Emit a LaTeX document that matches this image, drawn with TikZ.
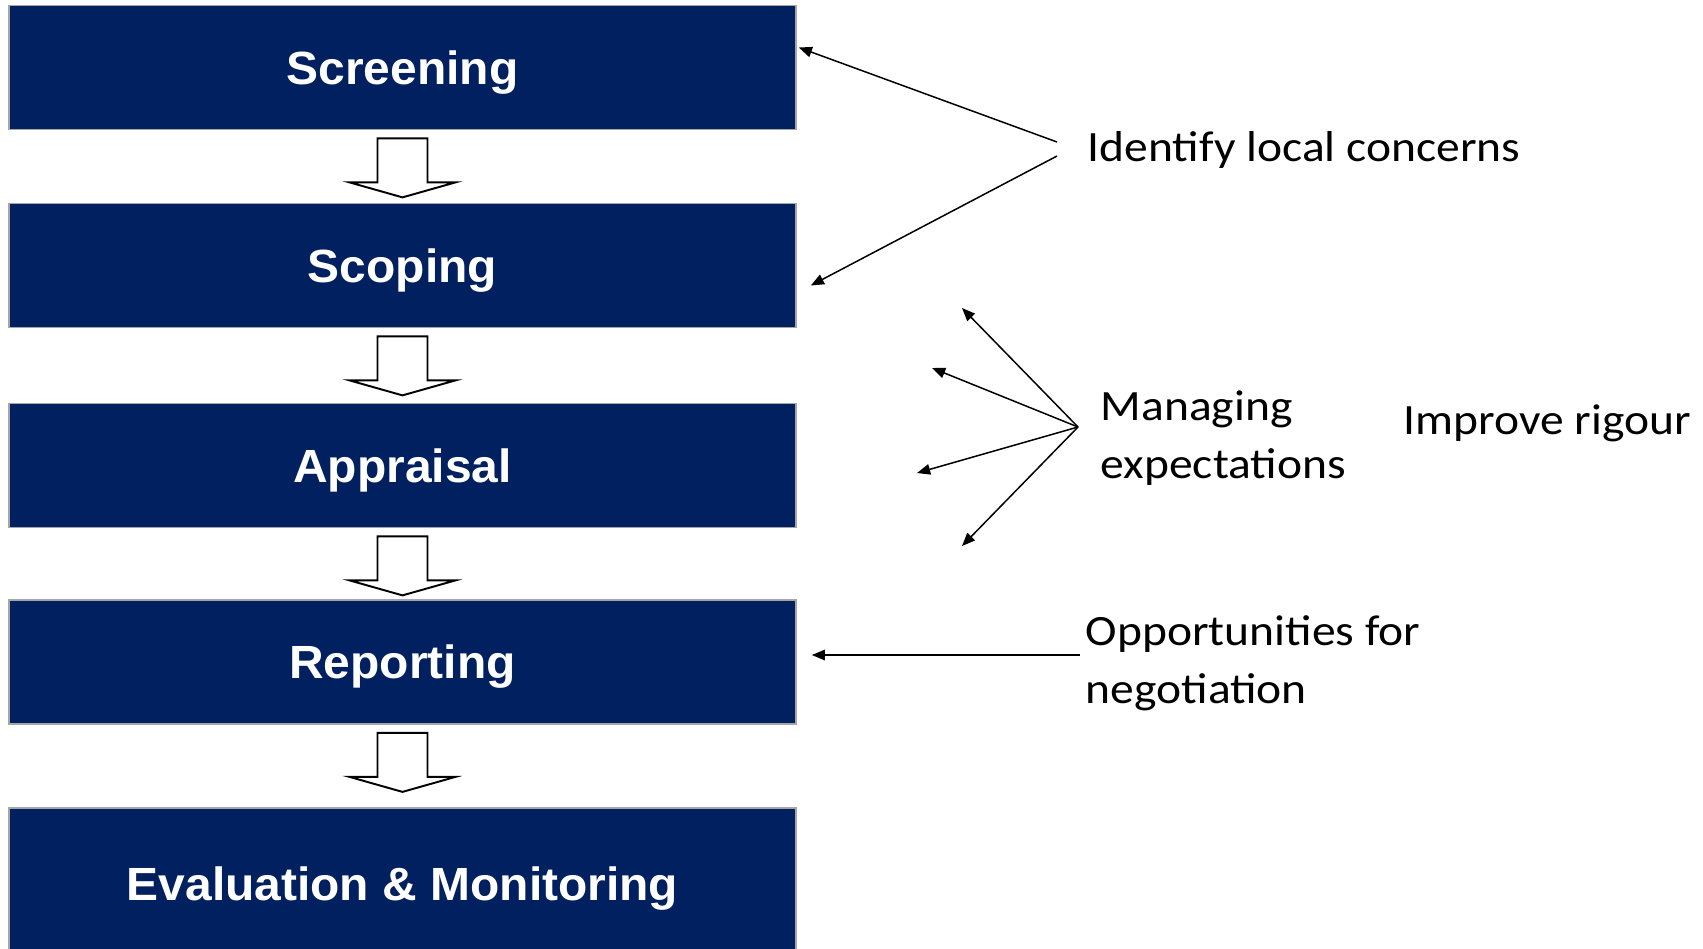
\documentclass[tikz,border=0pt]{standalone}
\usepackage{fontspec}
\setmainfont{Carlito}[FakeStretch=1.1]
\newfontfamily\boxfont{Liberation Sans}[FakeStretch=1.03]
\usepackage{tikz}
\usetikzlibrary{arrows.meta, calc}
\definecolor{navy}{RGB}{0,32,96}
\tikzset{>={Triangle[length=7.5pt,width=6pt]}}
\tikzset{
	stage/.style={draw=gray!70, line width=1pt, fill=navy, text=white, minimum width=15.74cm, minimum height=2.48cm, inner sep=0pt, text depth=0pt, font=\boxfont\bfseries\fontsize{26.5}{30}\selectfont},
	hollow/.style={draw=black, line width=1.1pt, fill=white, line join=miter},
	note/.style={anchor=west, inner sep=0pt, align=left, font=\fontsize{24.6}{32.9}\selectfont},
}

\begin{document}
\begin{tikzpicture}[x=0.02cm, y=-0.02cm, line width=0.85pt]
	\useasboundingbox (0,0) rectangle (1703,948);
	\node[stage] (B1) at (402.5,67.5) {Screening};
	\node[stage] (B2) at (402.5,265.5) {Scoping};
	\node[stage] (B3) at (402.5,465.5) {Appraisal};
	\node[stage] (B4) at (402.5,662) {Reporting};
	\node[stage, minimum height=3.04cm] (B5) at (402.5,884) {Evaluation \& Monitoring};
	\foreach \a in {B1,B2,B3,B4}
		\draw[hollow] ($(\a.south)+(-25,8)$) -- ++(0,44) -- ++(-28,0) -- ++(53,15) -- ++(53,-15) -- ++(-28,0) -- ++(0,-44) -- cycle;
	\node[note] (T1) at (1087,150) {Identify local concerns};
	\node[note] (T2) at (1100,438) {Managing\\expectations};
	\node[note] (T3) at (1403,423) {Improve rigour};
	\node[note] (T4) at (1085,663) {Opportunities for\\negotiation};
	\coordinate (H1) at ($(T1.west)+(-30,-8)$); \coordinate (H2) at ($(T1.west)+(-30,6)$);
	\coordinate (P1) at ($(B1.east)+(2,-20)$); \coordinate (P2) at ($(B2.east)+(14,20)$);
	\draw[->] (H1)--(P1); \draw[->] (H2)--(P2);
	\coordinate (H3) at ($(T2.west)+(-22,-11)$);
	\draw[->] (H3)--(962,308); \draw[->] (H3)--(932,368);
	\draw[->] (H3)--(917,473); \draw[->] (H3)--(962,546);
	\coordinate (H4) at ($(T4.west)+(-5,-8)$);
	\coordinate (P4) at ($(B4.east)+(15,-7)$);
	\draw[->] (H4)--(P4);
\end{tikzpicture}
\end{document}
